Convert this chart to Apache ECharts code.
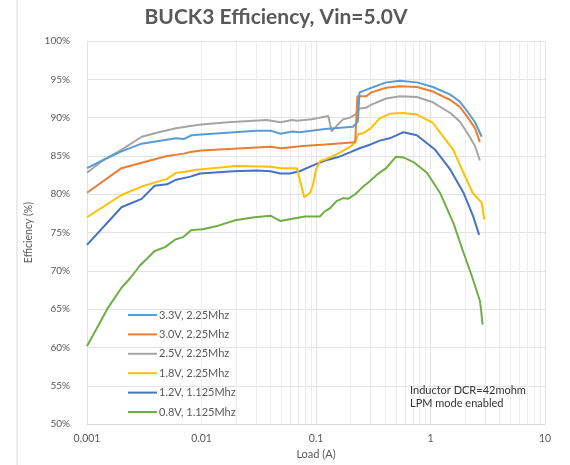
<!DOCTYPE html>
<html>
<head>
<meta charset="utf-8">
<script src="https://cdn.jsdelivr.net/npm/echarts@6/dist/echarts.min.js"></script>
<style>
  html, body { margin: 0; padding: 0; background: #fff; }
  #chart { width: 570px; height: 465px; }
</style>
</head>
<body>
<div id="chart"></div>
<script>
// load (A) and efficiency (%)
var names = ['3.3V, 2.25Mhz', '3.0V, 2.25Mhz', '2.5V, 2.25Mhz', '1.8V, 2.25Mhz', '1.2V, 1.125Mhz', '0.8V, 1.125Mhz'];
var colors = ['#5B9BD5', '#ED7D31', '#A5A5A5', '#FFC000', '#4472C4', '#70AD47'];

var load33 = [0.001, 0.0014, 0.002, 0.003, 0.0045, 0.006, 0.007, 0.0082, 0.01, 0.03, 0.04, 0.049, 0.062, 0.072, 0.12, 0.21, 0.232, 0.24, 0.305, 0.41, 0.54, 0.76, 1.05, 1.49, 1.8, 2.1, 2.45, 2.8];
var eff33 = [83.4, 84.5, 85.6, 86.6, 87.0, 87.3, 87.2, 87.7, 87.8, 88.3, 88.3, 87.9, 88.2, 88.1, 88.5, 88.8, 89.5, 93.3, 93.9, 94.6, 94.8, 94.6, 94.0, 93.0, 92.1, 90.8, 89.4, 87.5];

var load30 = [0.001, 0.002, 0.003, 0.005, 0.007, 0.008, 0.01, 0.03, 0.04, 0.05, 0.077, 0.12, 0.22, 0.23, 0.275, 0.305, 0.41, 0.54, 0.76, 1.05, 1.49, 1.8, 2.1, 2.45, 2.7];
var eff30 = [80.2, 83.4, 84.1, 85.0, 85.3, 85.5, 85.7, 86.1, 86.2, 86.0, 86.3, 86.5, 86.8, 92.8, 92.8, 93.3, 93.9, 94.1, 94.0, 93.4, 92.3, 91.4, 90.1, 88.6, 86.8];

var load25 = [0.001, 0.0014, 0.002, 0.003, 0.0045, 0.006, 0.008, 0.01, 0.017, 0.037, 0.049, 0.062, 0.068, 0.092, 0.128, 0.137, 0.151, 0.173, 0.198, 0.225, 0.24, 0.275, 0.305, 0.41, 0.54, 0.76, 1.05, 1.49, 1.8, 2.1, 2.45, 2.7];
var eff25 = [82.8, 84.5, 85.8, 87.5, 88.2, 88.6, 88.9, 89.1, 89.4, 89.7, 89.4, 89.7, 89.6, 89.8, 90.2, 88.2, 88.9, 89.8, 90.0, 90.5, 91.2, 91.3, 91.7, 92.5, 92.8, 92.7, 92.0, 90.6, 89.5, 88.0, 86.3, 84.4];

var load18 = [0.001, 0.002, 0.003, 0.005, 0.006, 0.007, 0.009, 0.02, 0.04, 0.05, 0.068, 0.079, 0.089, 0.094, 0.1, 0.108, 0.123, 0.151, 0.2, 0.22, 0.233, 0.26, 0.3, 0.36, 0.44, 0.58, 0.76, 1.05, 1.58, 1.94, 2.33, 2.8, 2.95];
var eff18 = [77.0, 79.9, 81.0, 82.0, 82.8, 82.9, 83.2, 83.7, 83.6, 83.4, 83.4, 79.6, 80.2, 81.2, 83.2, 84.3, 84.6, 85.2, 86.2, 86.8, 87.8, 88.0, 88.6, 89.9, 90.5, 90.6, 90.4, 89.3, 85.8, 82.8, 80.2, 78.9, 76.7];

var load12 = [0.001, 0.002, 0.003, 0.0039, 0.005, 0.006, 0.008, 0.0097, 0.019, 0.03, 0.04, 0.049, 0.059, 0.072, 0.092, 0.12, 0.16, 0.2, 0.24, 0.3, 0.36, 0.44, 0.58, 0.76, 1.1, 1.49, 1.94, 2.36, 2.66];
var eff12 = [73.4, 78.3, 79.4, 81.1, 81.3, 81.9, 82.3, 82.7, 83.0, 83.1, 83.0, 82.7, 82.7, 83.0, 83.7, 84.4, 84.9, 85.5, 86.0, 86.5, 87.0, 87.3, 88.1, 87.7, 85.8, 83.2, 80.2, 77.1, 74.7];

var load08 = [0.001, 0.00125, 0.0015, 0.002, 0.0024, 0.0029, 0.0039, 0.0048, 0.0059, 0.0069, 0.0081, 0.0094, 0.01, 0.014, 0.0197, 0.029, 0.04, 0.049, 0.062, 0.08, 0.108, 0.12, 0.133, 0.151, 0.173, 0.19, 0.22, 0.25, 0.3, 0.35, 0.41, 0.5, 0.58, 0.71, 0.93, 1.21, 1.58, 1.94, 2.3, 2.7, 2.76, 2.85];
var eff08 = [60.2, 62.8, 65.0, 67.8, 69.1, 70.7, 72.6, 73.1, 74.1, 74.4, 75.3, 75.4, 75.4, 75.9, 76.6, 77.0, 77.2, 76.5, 76.8, 77.1, 77.1, 77.8, 78.2, 79.1, 79.5, 79.4, 80.0, 80.8, 81.8, 82.7, 83.4, 84.9, 84.8, 84.2, 82.8, 80.2, 76.3, 72.4, 69.3, 66.1, 65.0, 63.0];

var loads = [load33, load30, load25, load18, load12, load08];
var effs = [eff33, eff30, eff25, eff18, eff12, eff08];

var font = 'Lato, "Open Sans", sans-serif';
var textGray = '#595959';

function pairs(xs, ys) {
    var out = [];
    for (var i = 0; i < xs.length; i++) out.push([xs[i], ys[i]]);
    return out;
}

// minor vertical grid lines at 2..9 of each decade
var minorLines = [];
[0.001, 0.01, 0.1, 1].forEach(function (d) {
    for (var k = 2; k <= 9; k++) minorLines.push({ xAxis: +(d * k).toPrecision(3) });
});

var series = [{
    name: 'minor',
    type: 'line',
    data: [],
    silent: true,
    z: 0,
    markLine: {
        silent: true,
        z: 0,
        symbol: 'none',
        label: { show: false },
        lineStyle: { color: '#ededed', width: 1, type: 'solid' },
        animation: false,
        data: minorLines
    }
}];
names.forEach(function (n, i) {
    series.push({
        name: n,
        type: 'line',
        data: pairs(loads[i], effs[i]),
        showSymbol: false,
        symbol: 'none',
        lineStyle: { color: colors[i], width: 2 },
        itemStyle: { color: colors[i] },
        z: 2 + (names.length - i)
    });
});

var chart = echarts.init(document.getElementById('chart'));
chart.setOption({
    animation: false,
    backgroundColor: '#fff',
    textStyle: { fontFamily: font },
    title: {
        text: 'BUCK3 Efficiency, Vin=5.0V',
        left: 271,
        top: 2,
        textAlign: 'center',
        textStyle: { fontFamily: font, fontSize: 21, fontWeight: 'bold', color: textGray }
    },
    grid: { left: 87, right: 25, top: 41, bottom: 40 },
    legend: {
        data: names,
        orient: 'vertical',
        left: 123,
        top: 303,
        icon: 'rect',
        itemWidth: 29,
        itemHeight: 2,
        itemGap: 5.4,
        textStyle: { fontFamily: font, fontSize: 11, color: textGray, lineHeight: 14, padding: [0, 0, 0, -3] }
    },
    xAxis: {
        type: 'log',
        logBase: 10,
        min: 0.001,
        max: 10,
        name: 'Load (A)',
        nameLocation: 'middle',
        nameGap: 24,
        nameTextStyle: { fontFamily: font, fontSize: 11, color: textGray },
        axisLine: { show: true, lineStyle: { color: '#d9d9d9' } },
        axisTick: { show: false },
        axisLabel: {
            fontFamily: font, fontSize: 10.5, color: textGray, margin: 9,
            formatter: function (v) { return String(+v.toPrecision(3)); }
        },
        splitLine: { show: true, lineStyle: { color: '#e3e3e3', width: 1 } }
    },
    yAxis: {
        type: 'value',
        min: 50,
        max: 100,
        interval: 5,
        name: 'Efficiency (%)',
        nameLocation: 'middle',
        nameGap: 45,
        nameTextStyle: { fontFamily: font, fontSize: 10.5, color: textGray },
        axisLine: { show: false },
        axisTick: { show: false },
        axisLabel: {
            fontFamily: font, fontSize: 10, color: textGray, margin: 17,
            formatter: '{value}%'
        },
        splitLine: { show: true, lineStyle: { color: '#e3e3e3', width: 1 } }
    },
    graphic: [{
        type: 'line',
        shape: { x1: 17, y1: 0, x2: 17, y2: 465 },
        style: { stroke: '#d9d9d9', lineWidth: 1 }
    }, {
        type: 'text',
        left: 410,
        top: 384,
        z: 10,
        style: {
            text: 'Inductor DCR=42mohm\nLPM mode enabled',
            font: '11px ' + font,
            fill: '#333',
            lineHeight: 13
        }
    }],
    series: series
});
</script>
</body>
</html>
